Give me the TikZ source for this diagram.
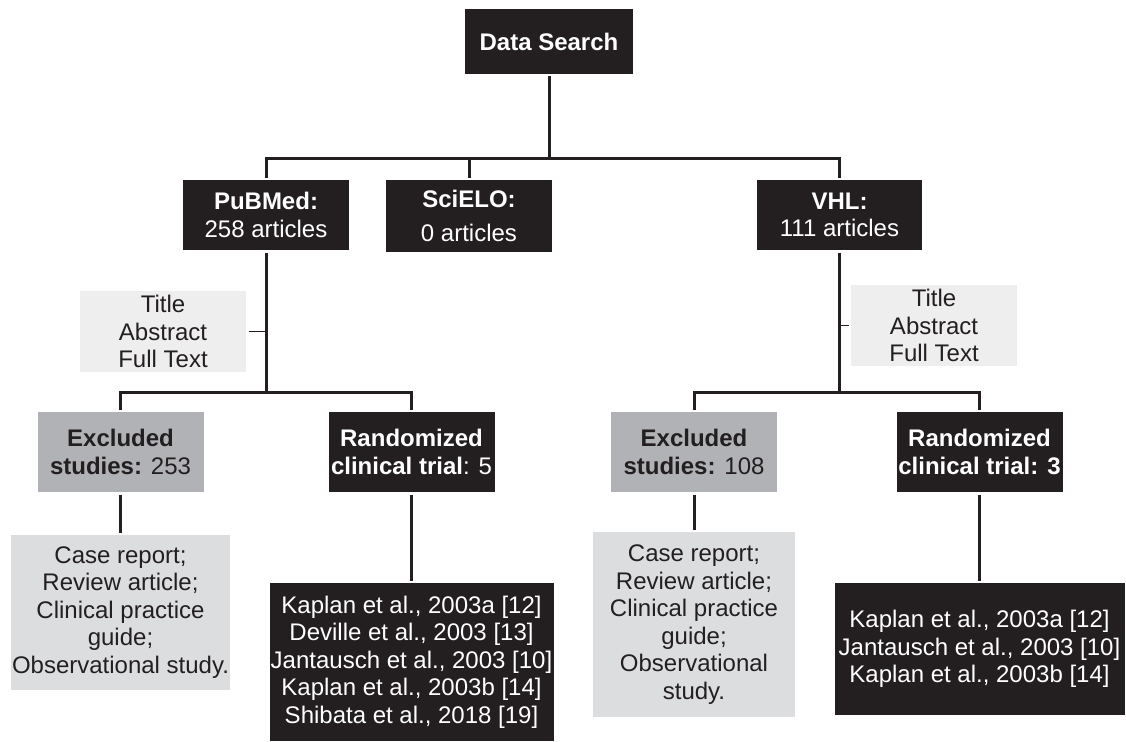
\documentclass[tikz,border=0pt]{standalone}
\usepackage{fontspec}
\setmainfont{Liberation Sans}
\usetikzlibrary{positioning}
\definecolor{boxblack}{HTML}{231F20}
\definecolor{exclgray}{HTML}{B1B2B5}
\definecolor{casegray}{HTML}{DCDDDF}
\definecolor{titlegray}{HTML}{EEEEEE}
\tikzset{
  box/.style={align=center, inner sep=0pt, outer sep=2.5pt, font=\fontsize{24}{27.5}\selectfont},
  darkbox/.style={box, fill=boxblack, text=white},
  exclbox/.style={box, fill=exclgray, text=boxblack},
  notebox/.style={box, fill=casegray, text=boxblack},
  filterbox/.style={box, fill=titlegray, text=boxblack},
  link/.style={draw=boxblack, line width=3pt},
  tick/.style={draw=boxblack, line width=1.5pt}
}
\begin{document}
\begin{tikzpicture}[x=1pt, y=-1pt]
\useasboundingbox[fill=white] (0,0) rectangle (1126,741);

\node[darkbox, minimum width=168pt, minimum height=65pt] (search) at (549,41.5) {\textbf{Data Search}};
\node[darkbox, minimum width=166pt, minimum height=70pt] (pubmed) at (266,215) {\textbf{PuBMed:}\\258 articles};
\node[darkbox, minimum width=166pt, minimum height=72pt] (scielo) at (469,216) {\textbf{SciELO:}\\[6pt]0 articles};
\node[darkbox, minimum width=165pt, minimum height=70pt] (vhl) at (839.5,215) {\textbf{VHL:}\\111 articles};

\node[filterbox, minimum width=166pt, minimum height=81pt] (filterL) at (163,331.5) {Title\\Abstract\\Full Text};
\node[filterbox, minimum width=166pt, minimum height=81pt] (filterR) at (934,325.5) {Title\\Abstract\\Full Text};

\node[exclbox, minimum width=166pt, minimum height=80pt] (exclL) at (120.5,452) {\textbf{Excluded}\\\textbf{studies:} 253};
\node[darkbox, minimum width=166pt, minimum height=80pt] (rctL) at (411.5,452) {\textbf{Randomized}\\\textbf{clinical trial}: 5};
\node[exclbox, minimum width=166pt, minimum height=80pt] (exclR) at (694,452) {\textbf{Excluded}\\\textbf{studies:} 108};
\node[darkbox, minimum width=166pt, minimum height=80pt] (rctR) at (979.5,452) {\textbf{Randomized}\\\textbf{clinical trial: 3}};

\node[notebox, minimum width=219pt, minimum height=155pt] (notesL) at (120.5,612.5) {Case report;\\Review article;\\Clinical practice\\guide;\\Observational study.};
\node[notebox, minimum width=202pt, minimum height=185pt] (notesR) at (694,624.5) {Case report;\\Review article;\\Clinical practice\\guide;\\Observational\\study.};
\node[darkbox, minimum width=284pt, minimum height=158pt] (trialsL) at (411.5,662) {Kaplan et al., 2003a [12]\\Deville et al., 2003 [13]\\Jantausch et al., 2003 [10]\\Kaplan et al., 2003b [14]\\Shibata et al., 2018 [19]};
\node[darkbox, minimum width=290pt, minimum height=132pt] (trialsR) at (979.5,649) {Kaplan et al., 2003a [12]\\Jantausch et al., 2003 [10]\\Kaplan et al., 2003b [14]};

\coordinate (hub) at (549,158);
\coordinate (hubL) at (266,392);
\coordinate (hubR) at (839.5,392);

\draw[link] (search) -- (hub);
\draw[link] (pubmed) |- (hub) -| (vhl);
\draw[link] (scielo) -- (scielo |- hub);
\draw[link] (pubmed) -- (hubL);
\draw[link] (exclL) |- (hubL) -| (rctL);
\draw[link] (vhl) -- (hubR);
\draw[link] (exclR) |- (hubR) -| (rctR);
\draw[link] (exclL) -- (notesL);
\draw[link] (rctL) -- (trialsL);
\draw[link] (exclR) -- (notesR);
\draw[link] (rctR) -- (trialsR);
\draw[tick] (filterL) -- (filterL -| pubmed);
\draw[tick] (filterR) -- (filterR -| vhl);
\end{tikzpicture}
\end{document}
